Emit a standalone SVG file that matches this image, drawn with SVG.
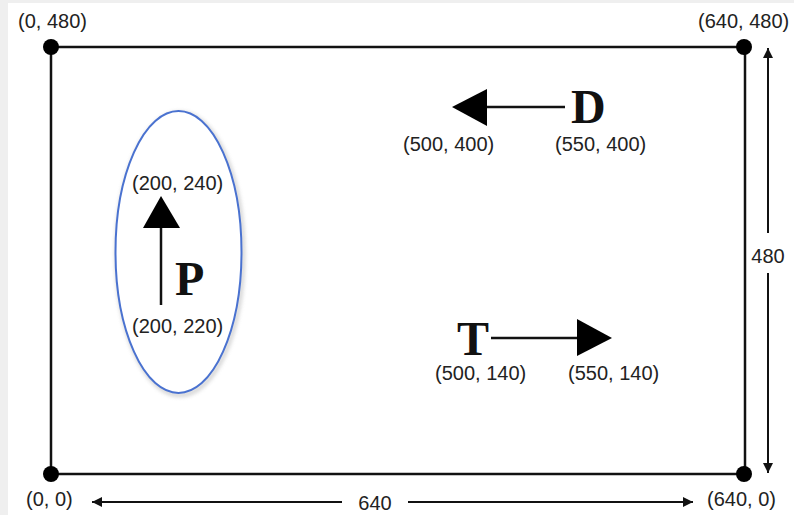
<svg xmlns="http://www.w3.org/2000/svg" width="794" height="515" viewBox="0 0 794 515">
<defs>
<style>
.lbl{font-family:"Liberation Sans",Arial,sans-serif;font-size:20px;fill:#222}
.big{font-family:"Liberation Serif","Times New Roman",serif;font-size:48px;font-weight:bold;fill:#111}
.edge{stroke:#111;stroke-width:2.5;fill:none}
.vec{stroke:#111;stroke-width:2.5;fill:none}
.dim{stroke:#111;stroke-width:2;fill:none}
.dot{fill:#000}
.head{fill:#000}
</style>
<filter id="sh" x="-20%" y="-20%" width="140%" height="140%">
<feGaussianBlur stdDeviation="2"/>
</filter>
<marker id="dimarrow" viewBox="0 0 10 10" refX="10" refY="5" markerWidth="10" markerHeight="10" markerUnits="userSpaceOnUse" orient="auto-start-reverse">
<path d="M0,0 L10,5 L0,10 Z" fill="#111"/>
</marker>
</defs>
<rect x="0" y="0" width="794" height="515" fill="#efefef"/>
<rect x="8" y="3" width="786" height="512" fill="#ffffff"/>

<g id="frame">
<rect class="edge" x="51" y="47" width="694" height="427"/>
<circle class="dot" cx="51" cy="47" r="8"/>
<circle class="dot" cx="744" cy="47" r="8"/>
<circle class="dot" cx="51" cy="474" r="8"/>
<circle class="dot" cx="744" cy="474" r="8"/>
<text class="lbl" x="18" y="28">(0, 480)</text>
<text class="lbl" x="698" y="28">(640, 480)</text>
<text class="lbl" x="26" y="506">(0, 0)</text>
<text class="lbl" x="707" y="506">(640, 0)</text>
</g>

<g id="dimensions">
<line class="dim" x1="342" y1="502" x2="92" y2="502" marker-end="url(#dimarrow)"/>
<line class="dim" x1="408" y1="502" x2="693" y2="502" marker-end="url(#dimarrow)"/>
<text class="lbl" x="375" y="510" text-anchor="middle">640</text>
<line class="dim" x1="768" y1="233" x2="768" y2="48" marker-end="url(#dimarrow)"/>
<line class="dim" x1="768" y1="273" x2="768" y2="473" marker-end="url(#dimarrow)"/>
<text class="lbl" x="768" y="263" text-anchor="middle">480</text>
</g>

<g id="P">
<ellipse cx="180" cy="254" rx="63" ry="141" fill="none" stroke="#999" stroke-width="3" filter="url(#sh)" opacity="0.6"/>
<ellipse cx="178.5" cy="252" rx="63" ry="141" fill="#ffffff" stroke="#4a72d0" stroke-width="2"/>
<line class="vec" x1="161" y1="305" x2="161" y2="226"/>
<path class="head" d="M143,228 L161,196 L180,228 Z"/>
<text class="big" x="175" y="295">P</text>
<text class="lbl" x="132" y="190">(200, 240)</text>
<text class="lbl" x="132" y="333">(200, 220)</text>
</g>

<g id="D">
<line class="vec" x1="565" y1="107" x2="485" y2="107"/>
<path class="head" d="M487,89 L452,107 L487,126 Z"/>
<text class="big" x="571" y="123">D</text>
<text class="lbl" x="403" y="151">(500, 400)</text>
<text class="lbl" x="555" y="151">(550, 400)</text>
</g>

<g id="T">
<line class="vec" x1="491" y1="338" x2="579" y2="338"/>
<path class="head" d="M577,319 L612,338 L577,356 Z"/>
<text class="big" x="457" y="355">T</text>
<text class="lbl" x="435" y="380">(500, 140)</text>
<text class="lbl" x="568" y="380">(550, 140)</text>
</g>
</svg>
